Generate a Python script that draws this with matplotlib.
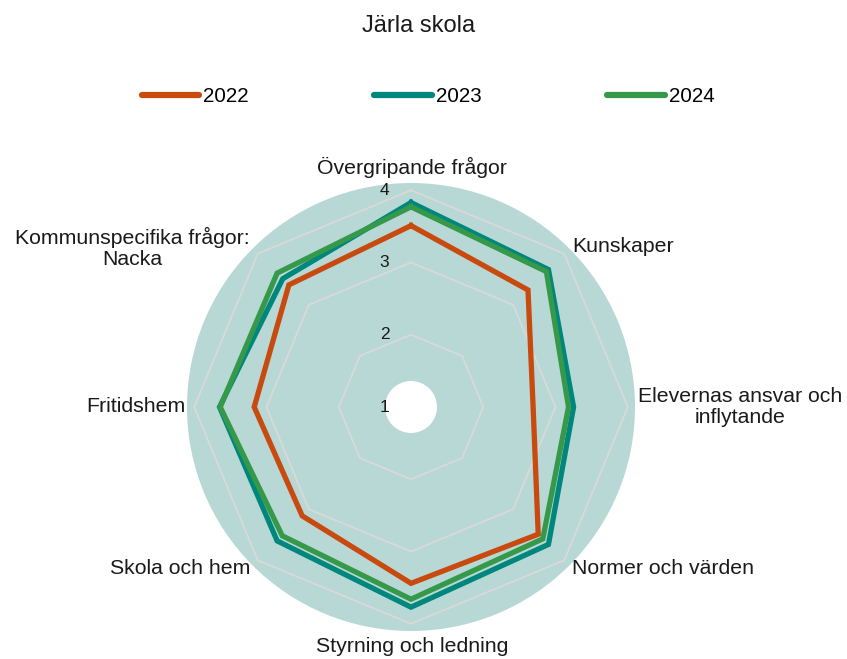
import numpy as np
import matplotlib.pyplot as plt
from matplotlib.patches import Circle

# Data (scale 1-4)
categories = ["Övergripande frågor", "Kunskaper", "Elevernas ansvar och\ninflytande",
              "Normer och värden", "Styrning och ledning", "Skola och hem",
              "Fritidshem", "Kommunspecifika frågor:\nNacka"]
years = ["2022", "2023", "2024"]
v2022 = [3.51, 3.29, 2.69, 3.49, 3.44, 3.13, 3.17, 3.39]
v2023 = [3.83, 3.69, 3.25, 3.69, 3.77, 3.62, 3.65, 3.51]
v2024 = [3.77, 3.65, 3.18, 3.58, 3.66, 3.52, 3.64, 3.62]
rticks = [1, 2, 3, 4]

colors = ["#C84A0F", "#00877D", "#36994A"]
bg = "#B8D8D5"
gridc = "#D9D9D9"

W, H = 847, 659
plt.rcParams['font.family'] = ['Liberation Sans', 'DejaVu Sans']

fig = plt.figure(figsize=(W / 100, H / 100), dpi=100)

# polar axes centered around (411, 407) px, radius 224 px
cx, cy, rad = 411, 407, 224
ax = fig.add_axes([(cx - rad) / W, (H - cy - rad) / H, 2 * rad / W, 2 * rad / H],
                  projection='polar')
ax.set_theta_zero_location('N')
ax.set_theta_direction(-1)
ax.set_ylim(1, 4.1)
ax.set_facecolor(bg)
ax.spines['polar'].set_visible(False)
ax.set_xticks([])
ax.set_yticks([])
ax.grid(False)

n = len(categories)
angles = np.arange(n) * 2 * np.pi / n
closed = np.append(angles, angles[0])

# octagon gridlines
for r in rticks[1:]:
    ax.plot(closed, [r] * (n + 1), color=gridc, lw=1.3, zorder=1)

# white hole in the middle
ax.add_patch(Circle((0.5, 0.5), 26 / (2 * rad), transform=ax.transAxes,
                    facecolor='white', edgecolor='none', zorder=1.5))

for vals, c, lab in zip([v2022, v2023, v2024], colors, years):
    ax.plot(closed, vals + vals[:1], color=c, lw=3.8, label=lab, zorder=3,
            solid_joinstyle='miter')

# radial tick labels, left of the top spoke
for r in rticks:
    ax.annotate(str(r), xy=(0, r), xytext=(-19, 0), textcoords='offset points',
                ha='center', va='center', fontsize=12.5, color='#1a1a1a', zorder=4)

# category labels (pixel positions from the picture)
def fpos(x, y):
    return x / W, 1 - y / H

label_pos = [(412, 167, 'center'), (572, 247, 'left'), (740, 407, 'center'),
             (572, 569, 'left'), (412, 647, 'center'), (250, 569, 'right'),
             (185, 407, 'right'), (132, 248, 'center')]
for txt, (x, y, ha) in zip(categories, label_pos):
    fx, fy = fpos(x, y)
    fig.text(fx, fy, txt, ha=ha, va='center', fontsize=15.3, color='#1a1a1a',
             multialignment='center', linespacing=1.1)

tx, ty = fpos(419, 26)
fig.text(tx, ty, "Järla skola", ha='center', va='center', fontsize=17, color='#1a1a1a')

lx, ly = fpos(428, 97)
leg = fig.legend(loc='center', bbox_to_anchor=(lx, ly), ncol=3, frameon=False,
                 fontsize=14.8, handlelength=2.8, handletextpad=0.2, columnspacing=6.1)
for h in leg.get_lines():
    h.set_linewidth(4.5)
    h.set_solid_capstyle('round')

fig.savefig("out.png", dpi=100)
